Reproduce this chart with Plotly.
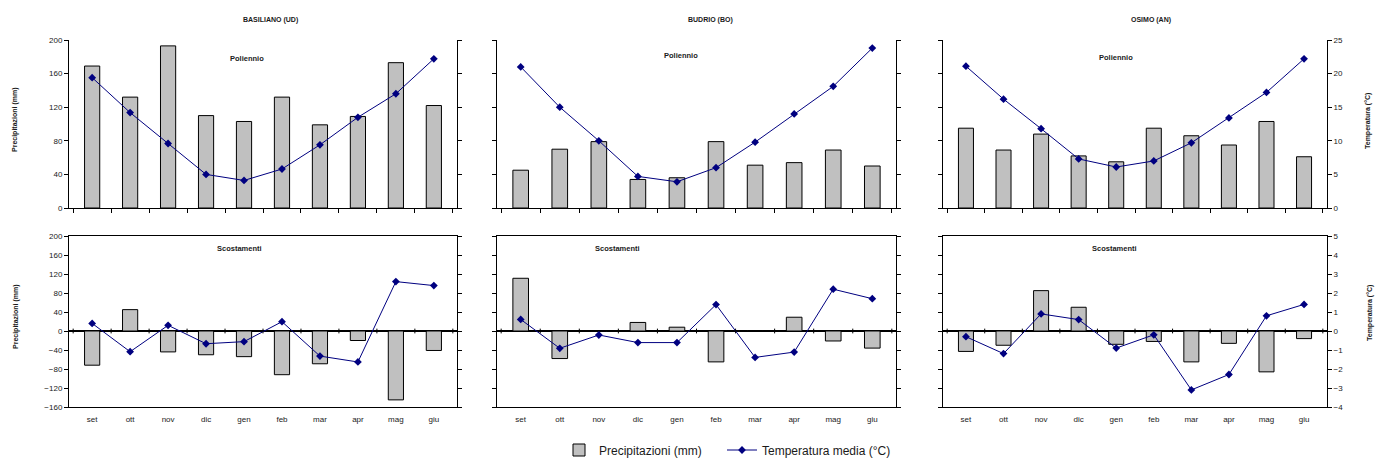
import plotly.graph_objects as go

months = ["set", "ott", "nov", "dic", "gen", "feb", "mar", "apr", "mag", "giu"]
stations = ["BASILIANO (UD)", "BUDRIO (BO)", "OSIMO (AN)"]

# Poliennio (long-term means)
bas_prec = [169, 132, 193, 110, 103, 132, 99, 109, 173, 122]
bas_temp = [19.4, 14.2, 9.6, 5.0, 4.1, 5.8, 9.4, 13.5, 17.0, 22.2]
bud_prec = [45, 70, 79, 34, 36, 79, 51, 54, 69, 50]
bud_temp = [21.0, 15.0, 10.0, 4.7, 3.9, 6.0, 9.8, 14.0, 18.1, 23.8]
osi_prec = [95, 69, 88, 62, 55, 95, 86, 75, 103, 61]
osi_temp = [21.1, 16.2, 11.8, 7.3, 6.1, 7.0, 9.7, 13.4, 17.2, 22.2]

# Scostamenti (deviations)
bas_prec_dev = [-72, 45, -44, -50, -54, -92, -69, -20, -145, -41]
bas_temp_dev = [0.40, -1.09, 0.30, -0.67, -0.56, 0.49, -1.32, -1.63, 2.6, 2.39]
bud_prec_dev = [111, -58, -1, 18, 8, -65, 1, 29, -21, -36]
bud_temp_dev = [0.61, -0.91, -0.21, -0.61, -0.61, 1.39, -1.39, -1.11, 2.2, 1.7]
osi_prec_dev = [-43, -30, 85, 50, -28, -22, -65, -26, -86, -16]
osi_temp_dev = [-0.30, -1.19, 0.90, 0.60, -0.90, -0.20, -3.1, -2.29, 0.80, 1.40]

prec_top = [bas_prec, bud_prec, osi_prec]
temp_top = [bas_temp, bud_temp, osi_temp]
prec_bot = [bas_prec_dev, bud_prec_dev, osi_prec_dev]
temp_bot = [bas_temp_dev, bud_temp_dev, osi_temp_dev]

W, H = 1375, 459
BAR_COLOR = "#C0C0C0"
LINE_COLOR = "#000080"
FONT = "Liberation Sans, Arial, sans-serif"
TXT = "#1a1a1a"

def px(x):
    return x / W

def py(y):
    return 1 - y / H

col_x = [(69, 457), (497, 896), (943, 1327)]
row_y = [(40, 208), (236, 407)]

fig = go.Figure()
legend_common = dict(orientation="h", xanchor="left", yanchor="middle", y=py(450),
                     font=dict(size=12, color=TXT), bgcolor="rgba(0,0,0,0)", itemwidth=30)
layout = dict(
    width=W, height=H,
    margin=dict(l=0, r=0, t=0, b=0, autoexpand=False),
    paper_bgcolor="white", plot_bgcolor="white",
    font=dict(family=FONT, size=8, color=TXT),
    barmode="group", bargap=0.6,
    showlegend=True,
    legend=dict(x=px(559), **legend_common),
    legend2=dict(x=px(722), **legend_common),
)
shapes = []
annotations = []

k = 0
for r in range(2):
    for c in range(3):
        xi = k + 1
        ym = 2 * k + 1
        yt = 2 * k + 2
        xname = "x" if xi == 1 else f"x{xi}"
        ymname = "y" if ym == 1 else f"y{ym}"
        ytname = f"y{yt}"
        if r == 0:
            pv, tv = prec_top[c], temp_top[c]
            mrange, mtick = [0, 200], 40
            trange, ttick = [0, 25], 5
        else:
            pv, tv = prec_bot[c], temp_bot[c]
            mrange, mtick = [-160, 200], 40
            trange, ttick = [-4, 5], 1
        fig.add_trace(go.Bar(
            x=months, y=pv, xaxis=xname, yaxis=ymname,
            marker=dict(color=BAR_COLOR, line=dict(color="black", width=1)),
            name="Precipitazioni (mm)", showlegend=(k == 4), legend="legend",
        ))
        fig.add_trace(go.Scatter(
            x=months, y=tv, xaxis=xname, yaxis=ytname, mode="lines+markers",
            line=dict(color=LINE_COLOR, width=1),
            marker=dict(symbol="diamond", size=6, color=LINE_COLOR),
            name="Temperatura media (°C)", showlegend=(k == 4), legend="legend2",
        ))
        x0, x1 = col_x[c]
        y0, y1 = row_y[r]
        xa = dict(domain=[px(x0), px(x1)], anchor=ymname, showgrid=False,
                  showline=True, linecolor="black", linewidth=1,
                  type="category", tickson="boundaries", zeroline=False,
                  tickfont=dict(size=8, color=TXT))
        if r == 0:
            xa.update(ticks="outside", ticklen=4, tickcolor="black", showticklabels=False)
        else:
            xa.update(ticks="", showticklabels=True, mirror=True, ticklabelstandoff=4)
        layout[f"xaxis{xi}" if xi > 1 else "xaxis"] = xa
        ya = dict(domain=[py(y1), py(y0)], anchor=xname, range=mrange, dtick=mtick,
                  showgrid=False, showline=True, linecolor="black", linewidth=1,
                  ticks="outside", ticklen=4, tickcolor="black",
                  showticklabels=(c == 0), tickfont=dict(size=8, color=TXT),
                  zeroline=(r == 1), zerolinecolor="black", zerolinewidth=1.5)
        layout[f"yaxis{ym}" if ym > 1 else "yaxis"] = ya
        yb = dict(overlaying=ymname, anchor=xname, side="right", range=trange, dtick=ttick,
                  showgrid=False, showline=True, linecolor="black", linewidth=1,
                  ticks="outside", ticklen=4, tickcolor="black",
                  showticklabels=(c == 2), tickfont=dict(size=8, color=TXT),
                  zeroline=False)
        layout[f"yaxis{yt}"] = yb
        if r == 1:
            for b in range(len(months) + 1):
                shapes.append(dict(type="line", xref=xname, yref=ymname,
                                   x0=b - 0.5, x1=b - 0.5, y0=-5, y1=5,
                                   line=dict(color="black", width=1)))
        k += 1

def ann(text, x, y, size, angle=0):
    return dict(text=text, x=px(x), y=py(y), xref="paper", yref="paper",
                xanchor="center", yanchor="middle", showarrow=False, textangle=angle,
                font=dict(size=size, color=TXT))

for (tx, ty), t in zip([(270, 20), (710, 20), (1151, 20)], stations):
    annotations.append(ann(f"<b>{t}</b>", tx, ty, 7))
for (tx, ty) in [(247, 58), (681, 56), (1116, 57)]:
    annotations.append(ann("<b>Poliennio</b>", tx, ty, 7.5))
for (tx, ty) in [(239, 248), (617, 248), (1114, 248)]:
    annotations.append(ann("<b>Scostamenti</b>", tx, ty, 7.5))
for (tx, ty) in [(15, 120), (16, 317)]:
    annotations.append(ann("<b>Precipitazioni (mm)</b>", tx, ty, 7, -90))
for (tx, ty) in [(1368, 121), (1370, 313)]:
    annotations.append(ann("<b>Temperatura (°C)</b>", tx, ty, 7, -90))

layout["shapes"] = shapes
layout["annotations"] = annotations
fig.update_layout(**layout)
fig.write_html("out.html", config={"displayModeBar": False},
               post_script="document.body.style.margin='0px';")
